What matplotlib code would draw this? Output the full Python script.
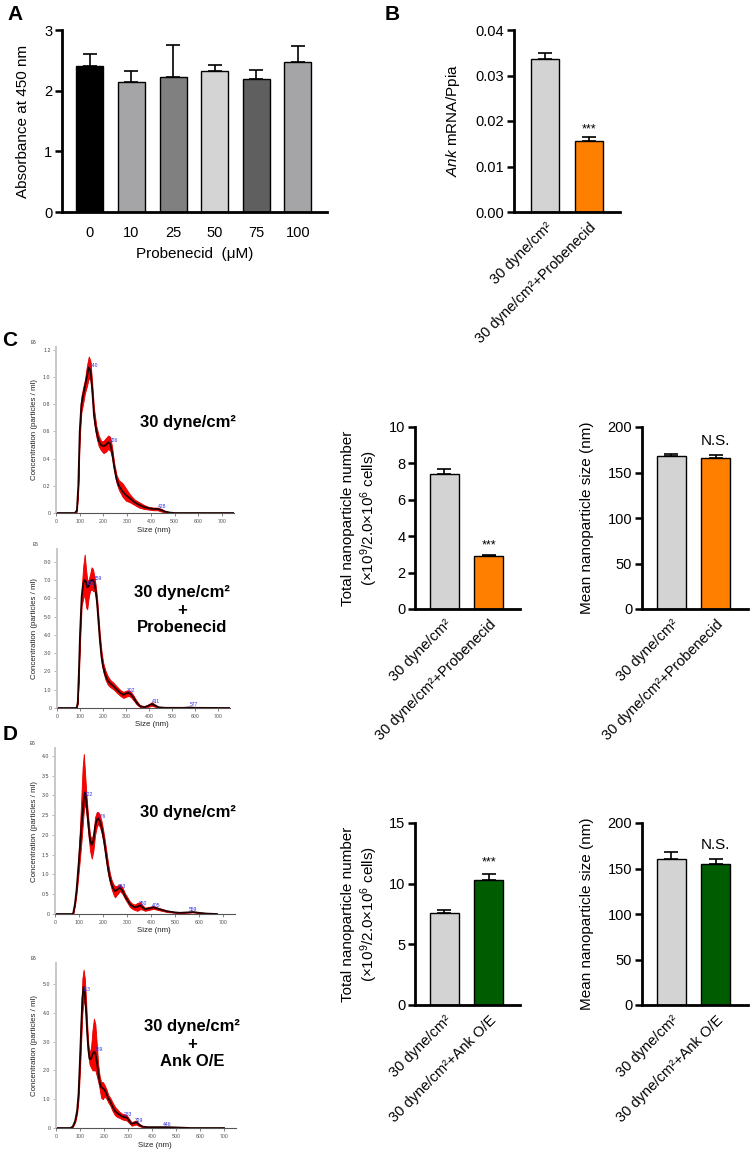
import numpy as np
import matplotlib
matplotlib.use("Agg")
import matplotlib.pyplot as plt

plt.rcParams['font.family'] = ['Liberation Sans', 'DejaVu Sans']
plt.rcParams['mathtext.fontset'] = 'custom'
plt.rcParams['mathtext.rm'] = 'Liberation Sans'
plt.rcParams['mathtext.it'] = 'Liberation Sans:italic'
plt.rcParams['mathtext.bf'] = 'Liberation Sans:bold'

# === Panel A: cell viability ===
a_conc = ['0', '10', '25', '50', '75', '100']
a_mean = [2.41, 2.14, 2.23, 2.32, 2.19, 2.48]
a_err = [0.19, 0.19, 0.53, 0.11, 0.15, 0.26]
a_colors = ['#000000', '#a5a5a8', '#808080', '#d4d4d4', '#5f5f5f', '#a5a5a8']

# === Panel B: Ank mRNA ===
grp_prob = ['30 dyne/cm²', '30 dyne/cm²+Probenecid']
grp_ank = ['30 dyne/cm²', '30 dyne/cm²+Ank O/E']
b_mean = [0.0337, 0.01553]
b_err = [0.0012, 0.0009]

# === Panel C/D bars ===
c_num = [7.40, 2.91]
c_num_err = [0.27, 0.07]
c_size = [168.1, 166.3]
c_size_err = [2.2, 2.6]
d_num = [7.58, 10.30]
d_num_err = [0.22, 0.52]
d_size = [160.8, 154.9]
d_size_err = [7.0, 5.5]

# === NTA size distributions (mean, lower, upper of red band) ===
c1_size = [0, 80, 88, 94, 100, 107, 114, 122, 130, 138, 145, 152, 160, 170, 180, 190, 200, 210, 220, 228,
           236, 245, 255, 265, 280, 295, 310, 330, 350, 370, 390, 410, 428, 445, 460, 480, 500, 600, 750]
c1_mean = [0, 0, 0.02, 0.2, 0.6, 0.8, 0.86, 0.93, 1.0, 1.07, 1.05, 0.92, 0.72, 0.6, 0.53, 0.5, 0.49, 0.5, 0.52, 0.51,
           0.45, 0.34, 0.25, 0.2, 0.16, 0.13, 0.11, 0.08, 0.06, 0.045, 0.035, 0.03, 0.03, 0.02, 0.01, 0.003, 0, 0, 0]
c1_hi = [0, 0, 0.03, 0.23, 0.65, 0.86, 0.92, 0.98, 1.08, 1.15, 1.12, 0.97, 0.77, 0.64, 0.57, 0.53, 0.53, 0.55, 0.57, 0.56,
         0.49, 0.37, 0.28, 0.24, 0.22, 0.18, 0.14, 0.1, 0.08, 0.06, 0.045, 0.04, 0.04, 0.03, 0.015, 0.005, 0, 0, 0]
c1_lo = [0, 0, 0.01, 0.17, 0.55, 0.74, 0.8, 0.88, 0.93, 0.99, 0.98, 0.87, 0.67, 0.56, 0.49, 0.46, 0.44, 0.45, 0.47, 0.46,
         0.41, 0.31, 0.22, 0.17, 0.12, 0.09, 0.08, 0.06, 0.04, 0.03, 0.025, 0.02, 0.02, 0.01, 0.005, 0.001, 0, 0, 0]
c1_peaks = [140, 226, 428]

c2_size = [0, 85, 90, 95, 100, 107, 114, 120, 126, 131, 137, 143, 150, 156, 162, 168, 174, 180, 186, 193,
           200, 210, 220, 230, 245, 260, 275, 288, 300, 310, 320, 332, 345, 360, 380, 400, 411, 422, 440, 470,
           550, 577, 600, 750]
c2_mean = [0, 0, 0.3, 2.0, 4.1, 6.1, 6.8, 7.0, 6.9, 6.6, 6.65, 6.9, 7.0, 7.0, 6.85, 6.4, 5.7, 4.7, 3.7, 2.8,
           2.25, 1.8, 1.5, 1.35, 1.2, 1.0, 0.82, 0.72, 0.8, 0.82, 0.75, 0.55, 0.3, 0.1, 0.05, 0.15, 0.22, 0.15, 0.04, 0.01,
           0.01, 0.03, 0.01, 0]
c2_hi = [0, 0, 0.35, 2.3, 4.6, 6.6, 7.8, 8.4, 7.6, 7.0, 7.0, 7.3, 7.7, 7.6, 7.2, 6.7, 6.0, 5.0, 4.0, 3.1,
         2.5, 2.05, 1.75, 1.55, 1.38, 1.17, 0.98, 0.88, 0.95, 0.97, 0.9, 0.68, 0.4, 0.15, 0.08, 0.22, 0.32, 0.22, 0.07, 0.02,
         0.02, 0.05, 0.02, 0]
c2_lo = [0, 0, 0.25, 1.7, 3.6, 5.6, 6.0, 6.2, 5.5, 5.4, 6.0, 6.4, 6.5, 6.4, 6.4, 6.1, 5.4, 4.4, 3.4, 2.5,
         2.0, 1.55, 1.28, 1.15, 1.02, 0.83, 0.66, 0.55, 0.62, 0.66, 0.6, 0.42, 0.2, 0.05, 0.02, 0.08, 0.12, 0.08, 0.01, 0,
         0, 0.01, 0, 0]
c2_peaks = [130, 159, 302, 411, 577]

d1_size = [0, 70, 76, 83, 90, 97, 104, 110, 115, 120, 125, 130, 135, 140, 146, 153, 160, 167, 174, 180,
           187, 194, 201, 208, 215, 222, 229, 236, 243, 250, 260, 271, 282, 292, 302, 312, 322, 333, 343, 354,
           365, 375, 390, 410, 430, 466, 500, 521, 550, 575, 600, 633, 675]
d1_mean = [0, 0, 0.02, 0.25, 0.62, 1.15, 1.7, 2.2, 2.55, 2.9, 3.08, 2.9, 2.55, 2.2, 1.87, 1.75, 1.85, 2.2, 2.38, 2.42,
           2.35, 2.2, 1.98, 1.7, 1.4, 1.12, 0.9, 0.75, 0.64, 0.58, 0.62, 0.67, 0.58, 0.45, 0.35, 0.25, 0.2, 0.17, 0.18, 0.22,
           0.17, 0.12, 0.14, 0.17, 0.13, 0.07, 0.04, 0.03, 0.04, 0.05, 0.03, 0.01, 0]
d1_hi = [0, 0, 0.03, 0.3, 0.72, 1.4, 2.2, 3.0, 3.7, 4.05, 3.6, 3.1, 2.7, 2.35, 2.0, 1.9, 2.05, 2.45, 2.58, 2.58,
         2.5, 2.35, 2.12, 1.85, 1.55, 1.25, 1.02, 0.86, 0.76, 0.7, 0.72, 0.75, 0.66, 0.52, 0.42, 0.32, 0.26, 0.24, 0.28, 0.3,
         0.22, 0.16, 0.18, 0.2, 0.16, 0.09, 0.05, 0.04, 0.05, 0.06, 0.04, 0.015, 0]
d1_lo = [0, 0, 0.01, 0.2, 0.52, 0.95, 1.4, 1.8, 2.2, 2.6, 2.8, 2.6, 2.3, 1.95, 1.6, 1.4, 1.6, 2.0, 2.2, 2.28,
         2.2, 2.05, 1.84, 1.55, 1.25, 0.98, 0.78, 0.63, 0.5, 0.42, 0.5, 0.58, 0.5, 0.38, 0.28, 0.18, 0.13, 0.1, 0.08, 0.12,
         0.11, 0.08, 0.1, 0.13, 0.1, 0.05, 0.03, 0.02, 0.03, 0.04, 0.02, 0.005, 0]
d1_peaks = [122, 176, 263, 350, 405, 559]

d2_size = [0, 60, 70, 80, 88, 94, 100, 105, 110, 115, 120, 125, 130, 135, 140, 146, 152, 158, 164, 170,
           176, 182, 188, 195, 202, 210, 218, 226, 235, 245, 255, 265, 275, 285, 295, 305, 315, 325, 335, 345,
           360, 380, 420, 462, 500, 560, 700]
d2_mean = [0, 0, 0.05, 0.25, 0.6, 1.2, 2.4, 3.5, 4.5, 4.9, 4.7, 4.1, 3.3, 2.7, 2.4, 2.4, 2.55, 2.65, 2.6, 2.3,
           1.93, 1.6, 1.42, 1.38, 1.33, 1.2, 1.02, 0.92, 0.75, 0.6, 0.52, 0.46, 0.4, 0.38, 0.36, 0.25, 0.14, 0.17, 0.2, 0.12,
           0.05, 0.03, 0.03, 0.03, 0.02, 0, 0]
d2_hi = [0, 0, 0.06, 0.3, 0.7, 1.4, 2.8, 4.1, 5.2, 5.5, 5.2, 4.5, 3.6, 2.9, 2.6, 2.8, 3.4, 3.8, 3.6, 2.9,
         2.2, 1.8, 1.6, 1.6, 1.5, 1.35, 1.15, 1.05, 0.9, 0.75, 0.65, 0.56, 0.5, 0.48, 0.44, 0.32, 0.2, 0.24, 0.26, 0.16,
         0.07, 0.04, 0.04, 0.04, 0.03, 0, 0]
d2_lo = [0, 0, 0.04, 0.2, 0.5, 1.0, 2.0, 3.0, 4.0, 4.4, 4.3, 3.8, 3.0, 2.5, 2.2, 2.1, 2.0, 2.0, 2.0, 1.8,
         1.6, 1.35, 1.05, 1.0, 1.1, 1.02, 0.88, 0.78, 0.6, 0.45, 0.38, 0.35, 0.3, 0.28, 0.26, 0.17, 0.08, 0.1, 0.12, 0.07,
         0.03, 0.02, 0.02, 0.02, 0.01, 0, 0]
d2_peaks = [113, 159, 283, 329, 446]

GRAY = '#d3d3d3'
ORANGE = '#ff8000'
GREEN = '#005c00'

W, H = 750, 1153
fig = plt.figure(figsize=(7.5, 11.53), dpi=100)


def box(r):
    l, t, rr, b = r
    return [l / W, 1 - b / H, (rr - l) / W, (b - t) / H]


def ftext(x, y, s, **kw):
    fig.text(x / W, 1 - y / H, s, **kw)


def bar_panel(rect, vals, errs, colors, labels, ylim, yticks, yticklabels, ylabel, ylab_px,
              xlim, width, rotate=True, xlabel=None, xlab_top=None):
    ax = fig.add_axes(box(rect))
    x = np.arange(len(vals))
    ax.bar(x, vals, width, color=colors, edgecolor='black', linewidth=1.0, zorder=2)
    ax.errorbar(x, vals, yerr=[np.zeros(len(vals)), errs], fmt='none', ecolor='black',
                elinewidth=1.2, capsize=5, capthick=1.2, zorder=1)
    ax.set_xlim(*xlim)
    ax.set_ylim(*ylim)
    ax.set_yticks(yticks)
    ax.set_yticklabels(yticklabels)
    ax.set_xticks(x)
    for s in ['top', 'right']:
        ax.spines[s].set_visible(False)
    for s in ['left', 'bottom']:
        ax.spines[s].set_linewidth(2.0)
    ax.tick_params(axis='y', length=5, width=1.8, labelsize=10.5, pad=2)
    if rotate:
        ax.tick_params(axis='x', length=0, labelsize=10.5, pad=6)
        ax.set_xticklabels(labels, rotation=45, ha='right', va='top', rotation_mode='anchor')
    else:
        ax.tick_params(axis='x', length=0, labelsize=10.5, pad=10)
        ax.set_xticklabels(labels)
    ax.set_ylabel(ylabel, fontsize=11)
    ax.yaxis.set_label_coords((ylab_px - rect[0]) / (rect[2] - rect[0]), 0.5)
    if xlabel:
        ax.set_xlabel(xlabel, fontsize=11)
        ax.xaxis.set_label_coords(0.5, (rect[3] - xlab_top) / (rect[3] - rect[1]))
    return ax


def nta_panel(rect, size, mean, lo, hi, ymax, yticks, yticklabels, exp_label, peaks, xlab_top):
    ax = fig.add_axes(box(rect))
    ax.fill_between(size, lo, hi, color='#ff0000', edgecolor='#e00000', linewidth=0.6, zorder=1)
    ax.plot(size, mean, color='#200000', lw=1.3, zorder=2)
    for p in peaks:
        ax.text(p, np.interp(p, size, mean), str(p), fontsize=3.6, color='#3030e0',
                ha='left', va='bottom', zorder=3)
    ax.set_xlim(0, 750)
    ax.set_ylim(0, ymax)
    ax.set_xticks(range(0, 701, 100))
    ax.set_yticks(yticks)
    ax.set_yticklabels(yticklabels)
    for s in ['top', 'right']:
        ax.spines[s].set_visible(False)
    ax.spines['left'].set_color('#c8c8c8')
    ax.spines['left'].set_linewidth(1.4)
    ax.spines['bottom'].set_color('#555555')
    ax.spines['bottom'].set_linewidth(0.8)
    ax.tick_params(axis='x', length=2, width=0.5, colors='#555555', labelsize=3.8, pad=2)
    ax.tick_params(axis='y', length=2, width=0.5, colors='#999999', labelsize=3.8, pad=2,
                   labelcolor='#444444')
    ax.set_xlabel('Size (nm)', fontsize=5.7, color='#222222')
    ax.xaxis.set_label_coords(0.55, (rect[3] - xlab_top) / (rect[3] - rect[1]))
    ax.set_ylabel('Concentration (particles / ml)', fontsize=5.7, color='#222222')
    ax.yaxis.set_label_coords((38 - rect[0]) / (rect[2] - rect[0]), 0.5)
    ax.text(-0.14, 1.02, exp_label, transform=ax.transAxes, fontsize=3.4, color='#333333')
    return ax


# --- Panel A ---
bar_panel((62, 30, 327, 212), a_mean, a_err, a_colors, a_conc, (0, 3), [0, 1, 2, 3],
          ['0', '1', '2', '3'], 'Absorbance at 450 nm', 30, (-0.67, 5.70), 0.65,
          rotate=False, xlabel='Probenecid  (μM)', xlab_top=247)
ftext(15, 14, 'A', fontsize=15, fontweight='bold', ha='center', va='center')

# --- Panel B ---
axb = bar_panel((514, 30, 620, 212), b_mean, b_err, [GRAY, ORANGE], grp_prob, (0, 0.04),
                [0, 0.01, 0.02, 0.03, 0.04], ['0.00', '0.01', '0.02', '0.03', '0.04'],
                r'$\it{Ank}$ mRNA/Ppia', 462, (-0.70, 1.70), 0.64)
axb.text(1, b_mean[1] + b_err[1] + 0.0004, '***', ha='center', va='bottom', fontsize=9)
ftext(392, 14, 'B', fontsize=15, fontweight='bold', ha='center', va='center')

# --- Panel C ---
ftext(10, 340, 'C', fontsize=15, fontweight='bold', ha='center', va='center')
nta_panel((56, 347, 234, 513), c1_size, c1_mean, c1_lo, c1_hi, 1.22,
          [0, 0.2, 0.4, 0.6, 0.8, 1.0, 1.2], ['0', '0.2', '0.4', '0.6', '0.8', '1.0', '1.2'],
          'E6', c1_peaks, 527)
ftext(188, 423, '30 dyne/cm²', fontsize=12, fontweight='bold', ha='center', va='center')

nta_panel((57, 549, 230, 708), c2_size, c2_mean, c2_lo, c2_hi, 8.7,
          [0, 1, 2, 3, 4, 5, 6, 7, 8], ['0', '1.0', '2.0', '3.0', '4.0', '5.0', '6.0', '7.0', '8.0'],
          'E5', c2_peaks, 721)
ftext(182, 610, '30 dyne/cm²\n+\nProbenecid', fontsize=12, fontweight='bold',
      ha='center', va='center', linespacing=1.25)

axc1 = bar_panel((415, 427, 520, 609), c_num, c_num_err, [GRAY, ORANGE], grp_prob, (0, 10),
                 [0, 2, 4, 6, 8, 10], ['0', '2', '4', '6', '8', '10'],
                 'Total nanoparticle number\n(×10$^{9}$/2.0×10$^{6}$ cells)', 380,
                 (-0.66, 1.70), 0.65)
axc1.text(1, c_num[1] + c_num_err[1] + 0.2, '***', ha='center', va='bottom', fontsize=9)

axc2 = bar_panel((642, 427, 748, 609), c_size, c_size_err, [GRAY, ORANGE], grp_prob, (0, 200),
                 [0, 50, 100, 150, 200], ['0', '50', '100', '150', '200'],
                 'Mean nanoparticle size (nm)', 594, (-0.66, 1.72), 0.65)
axc2.text(1, c_size[1] + c_size_err[1] + 8, 'N.S.', ha='center', va='bottom', fontsize=11)

# --- Panel D ---
ftext(10, 735, 'D', fontsize=15, fontweight='bold', ha='center', va='center')
nta_panel((55, 748, 235, 914), d1_size, d1_mean, d1_lo, d1_hi, 4.2,
          [0, 0.5, 1.0, 1.5, 2.0, 2.5, 3.0, 3.5, 4.0],
          ['0', '0.5', '1.0', '1.5', '2.0', '2.5', '3.0', '3.5', '4.0'],
          'E6', d1_peaks, 927)
ftext(188, 813, '30 dyne/cm²', fontsize=12, fontweight='bold', ha='center', va='center')

nta_panel((56, 963, 236, 1128), d2_size, d2_mean, d2_lo, d2_hi, 5.73,
          [0, 1, 2, 3, 4, 5], ['0', '1.0', '2.0', '3.0', '4.0', '5.0'],
          'E6', d2_peaks, 1142)
ftext(192, 1044, '30 dyne/cm²\n+\nAnk O/E', fontsize=12, fontweight='bold',
      ha='center', va='center', linespacing=1.25)

axd1 = bar_panel((415, 823, 520, 1005), d_num, d_num_err, [GRAY, GREEN], grp_ank, (0, 15),
                 [0, 5, 10, 15], ['0', '5', '10', '15'],
                 'Total nanoparticle number\n(×10$^{9}$/2.0×10$^{6}$ cells)', 380,
                 (-0.66, 1.70), 0.65)
axd1.text(1, d_num[1] + d_num_err[1] + 0.45, '***', ha='center', va='bottom', fontsize=9)

axd2 = bar_panel((642, 823, 748, 1005), d_size, d_size_err, [GRAY, GREEN], grp_ank, (0, 200),
                 [0, 50, 100, 150, 200], ['0', '50', '100', '150', '200'],
                 'Mean nanoparticle size (nm)', 594, (-0.66, 1.72), 0.65)
axd2.text(1, d_size[1] + d_size_err[1] + 8, 'N.S.', ha='center', va='bottom', fontsize=11)

fig.savefig('out.png', dpi=100)
